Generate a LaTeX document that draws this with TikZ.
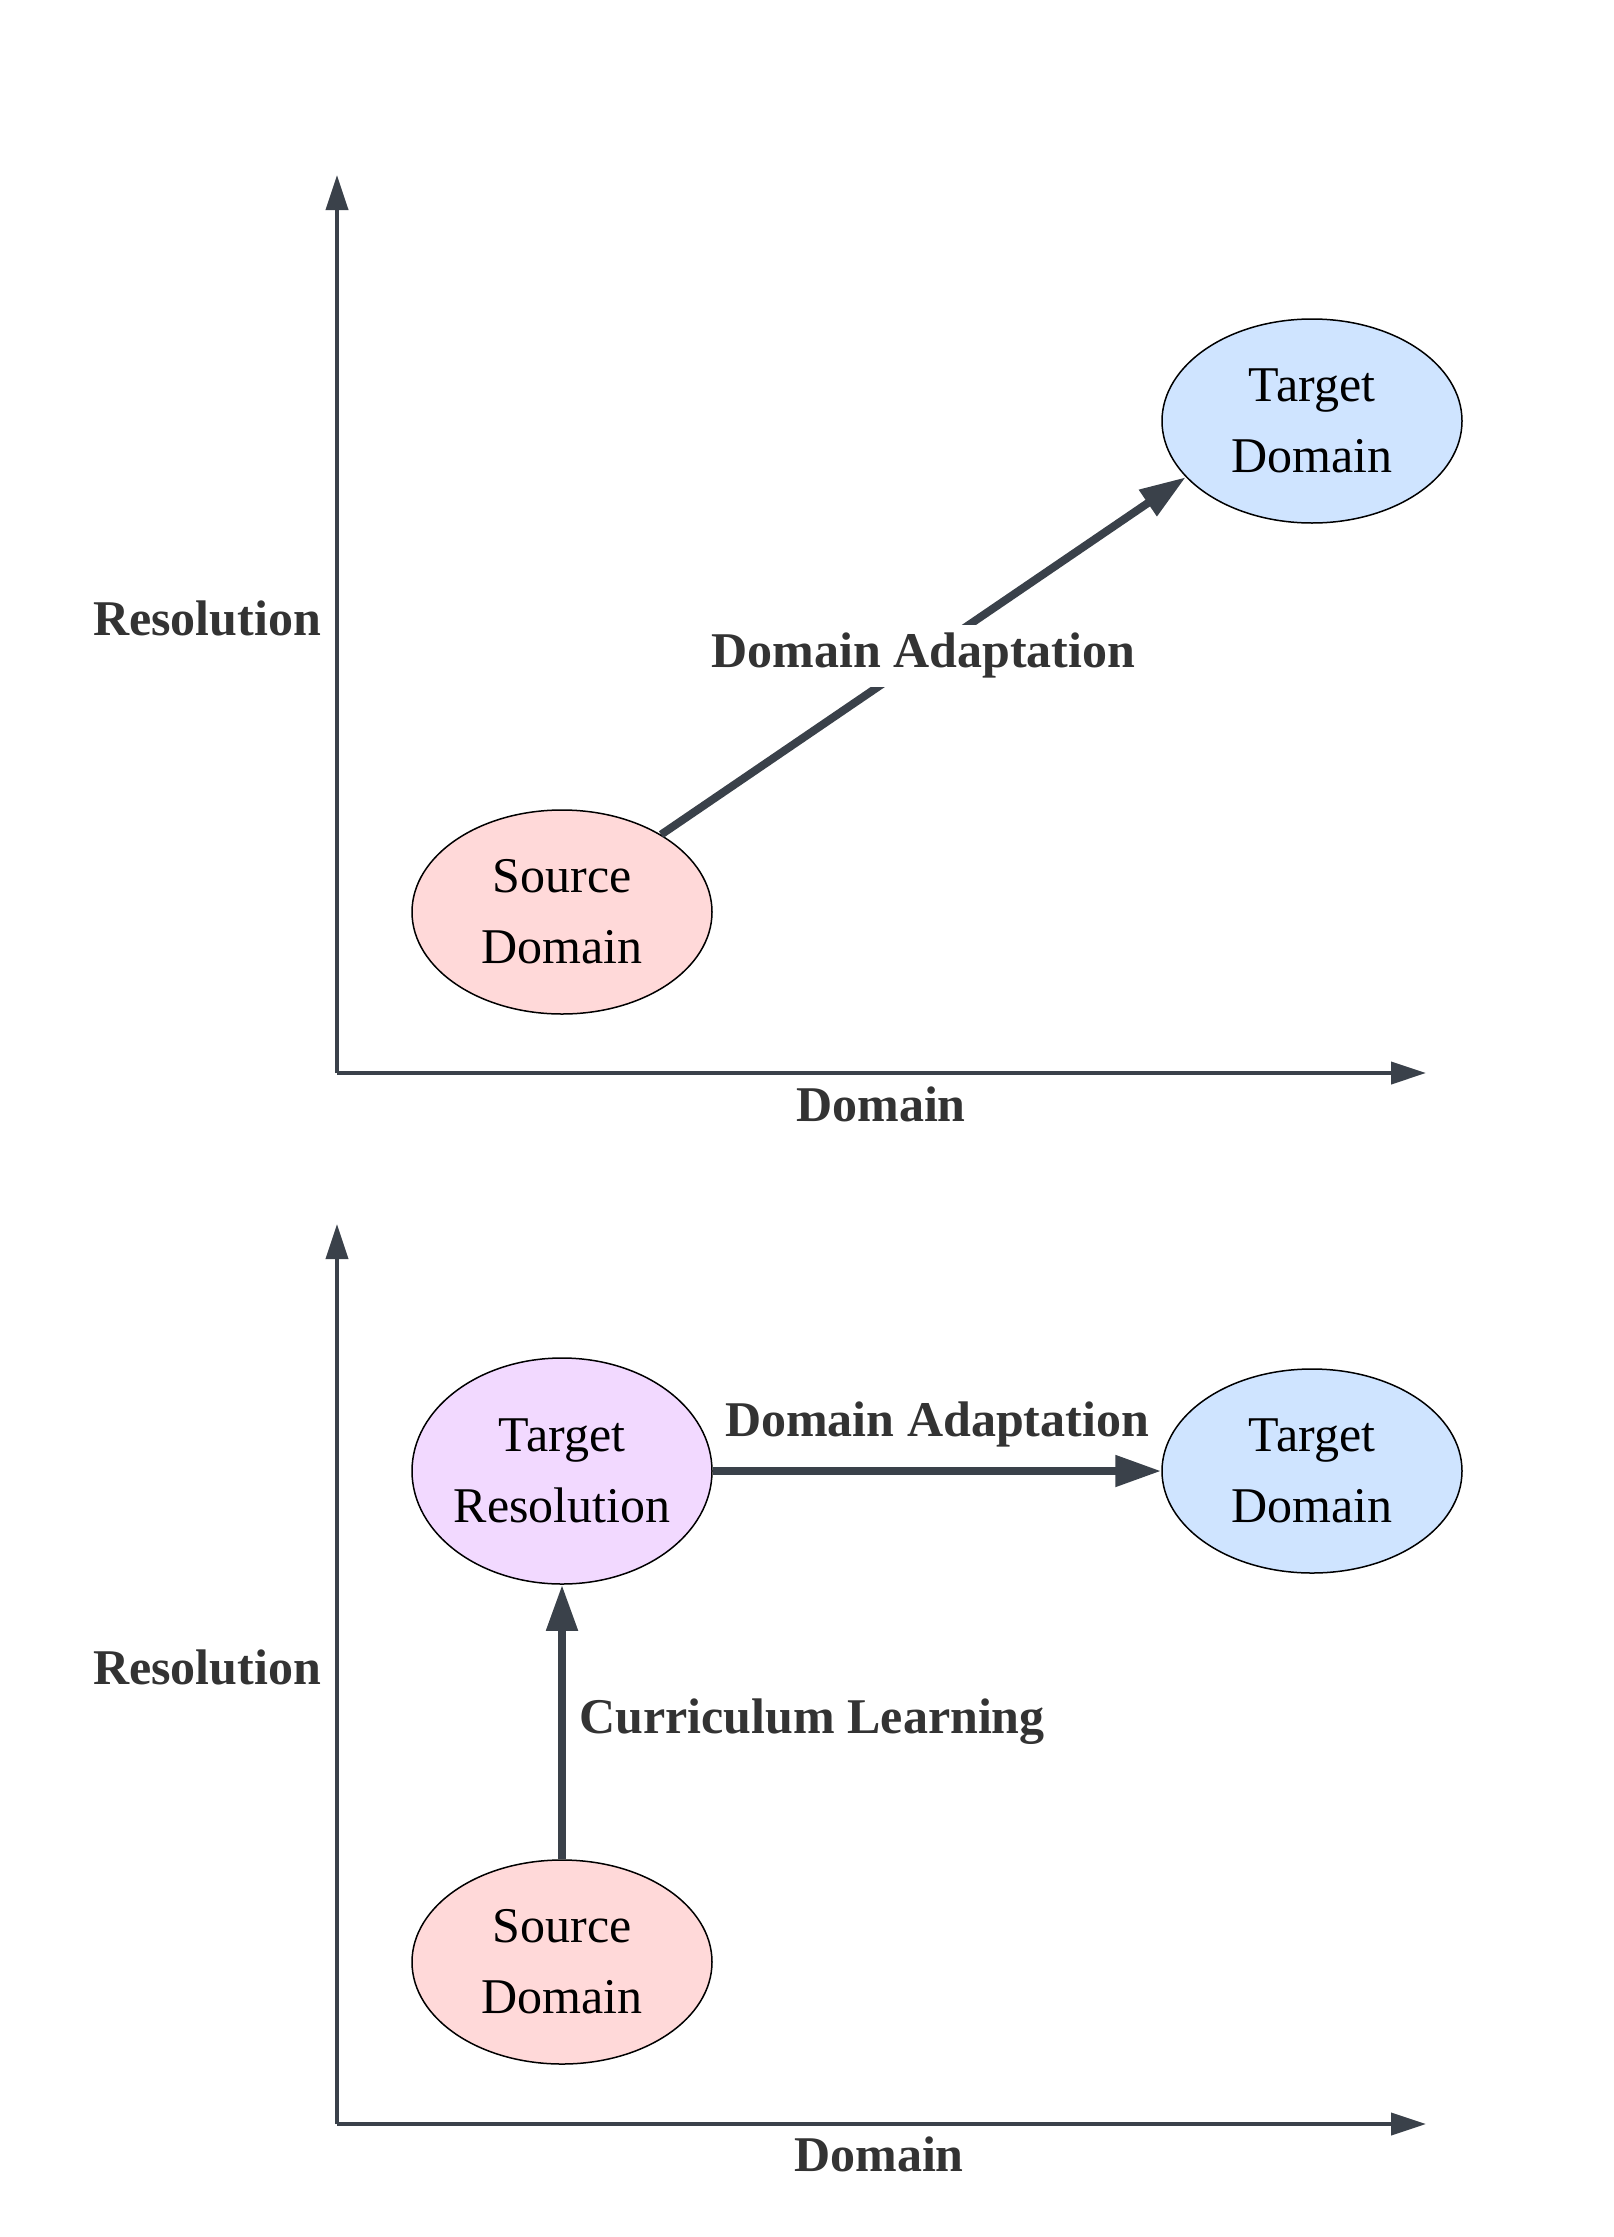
\documentclass[tikz,border=0pt]{standalone}
\usepackage{fontspec}
\setmainfont{Liberation Serif}
\usetikzlibrary{shapes.geometric,arrows.meta}
\definecolor{lnc}{HTML}{3A414A}
\definecolor{lblc}{HTML}{333333}
\definecolor{srcfill}{HTML}{FFD9D9}
\definecolor{tgtfill}{HTML}{CFE4FF}
\definecolor{resfill}{HTML}{F2D9FF}
\begin{document}
\begin{tikzpicture}[x=0.5pt,y=-0.5pt,
  ell/.style={ellipse,draw=black,line width=0.75pt,minimum width=150pt,minimum height=102pt,
    inner sep=0pt,align=center,font=\fontsize{25}{35.5}\selectfont},
  lbl/.style={text=lblc,font=\fontsize{25}{30}\selectfont\bfseries,inner sep=0pt,anchor=base},
  axline/.style={draw=lnc,line width=2pt,-{Triangle[length=17.5pt,width=11pt]}},
  conn/.style={draw=lnc,line width=4pt,-{Triangle[length=23pt,width=15pt]}}]
\useasboundingbox (0,0) rectangle (1613,2237);
% ---------- top panel ----------
\coordinate (o1) at (337,1073);
\coordinate (y1) at (337,175);
\coordinate (x1) at (1426,1073);
\draw[axline] (o1) -- (y1);
\draw[axline] (o1) -- (x1);
\node[lbl] (res1) at (207,635) {Resolution};
\node[lbl] (dom1) at (881,1121) {Domain};
\node[ell,fill=tgtfill] (tgt1) at (1312,421) {Target\\Domain};
\node[ell,fill=srcfill] (src1) at (562,912) {Source\\Domain};
\draw[conn] (src1.38.4) -- node[midway,fill=white,text=lblc,font=\fontsize{25}{30}\selectfont\bfseries,inner xsep=2pt,inner ysep=4pt] (da1) {Domain Adaptation} (tgt1.204);
% ---------- bottom panel ----------
\coordinate (o2) at (337,2124);
\coordinate (y2) at (337,1224);
\coordinate (x2) at (1426,2124);
\draw[axline] (o2) -- (y2);
\draw[axline] (o2) -- (x2);
\node[lbl] (res2) at (207,1684) {Resolution};
\node[lbl] (dom2) at (879,2171) {Domain};
\node[ell,fill=resfill,minimum height=113pt] (tres2) at (562,1471) {Target\\\makebox[100pt]{Resolution}};
\node[ell,fill=tgtfill] (tgt2) at (1312,1471) {Target\\Domain};
\node[ell,fill=srcfill] (src2) at (562,1962) {Source\\Domain};
\draw[conn] (tres2.east) -- (tgt2.west);
\draw[conn] (src2.north) -- (tres2.south);
\node[lbl] (da2) at (937,1436) {Domain Adaptation};
\node[lbl,anchor=base west] (cl2) at (579,1733) {Curriculum Learning};
\end{tikzpicture}
\end{document}
